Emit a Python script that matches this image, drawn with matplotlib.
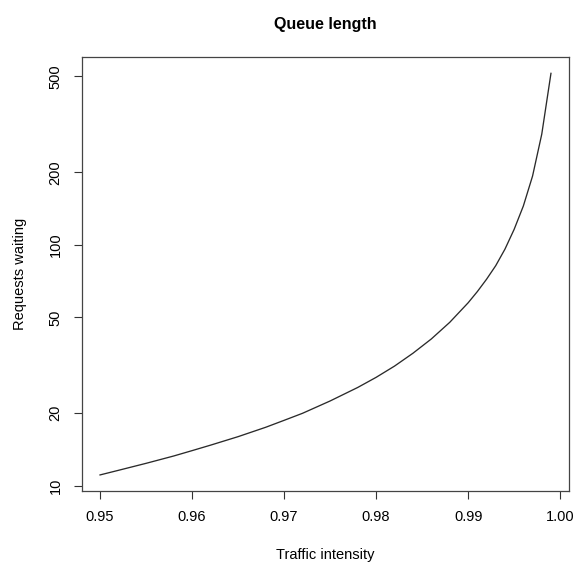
import matplotlib
matplotlib.use("Agg")
import matplotlib.pyplot as plt
from matplotlib.ticker import FixedLocator, FixedFormatter, NullLocator

plt.rcParams["font.family"] = ["Liberation Sans", "DejaVu Sans"]

# data
intensity = [0.950, 0.952, 0.955, 0.958, 0.960, 0.962, 0.965, 0.968,
             0.970, 0.972, 0.975, 0.978, 0.980, 0.982, 0.984, 0.986,
             0.988, 0.990, 0.991, 0.992, 0.993, 0.994, 0.995, 0.996,
             0.997, 0.998, 0.999]
waiting = [11.1, 11.6, 12.4, 13.3, 14.0, 14.75, 16.0, 17.5,
           18.7, 20.0, 22.5, 25.6, 28.2, 31.4, 35.5, 40.7,
           47.7, 57.5, 64.0, 72.0, 82.0, 96.0, 116.0, 145.0,
           193.0, 288.0, 515.0]

xticks = [0.95, 0.96, 0.97, 0.98, 0.99, 1.00]
xticklabels = ["0.95", "0.96", "0.97", "0.98", "0.99", "1.00"]
yticks = [10, 20, 50, 100, 200, 500]
yticklabels = ["10", "20", "50", "100", "200", "500"]

W, H = 574, 563
fig = plt.figure(figsize=(W / 100, H / 100), dpi=100)
ax = fig.add_axes([82 / W, 1 - 491 / H, (569 - 82) / W, (491 - 57) / H])

ax.plot(intensity, waiting, color="#2a2a2a", linewidth=0.95)
ax.set_yscale("log")
ax.set_xlim(0.94804, 1.00096)
ax.set_ylim(9.52, 602)

ax.xaxis.set_major_locator(FixedLocator(xticks))
ax.xaxis.set_major_formatter(FixedFormatter(xticklabels))
ax.yaxis.set_major_locator(FixedLocator(yticks))
ax.yaxis.set_major_formatter(FixedFormatter(yticklabels))
ax.yaxis.set_minor_locator(NullLocator())
ax.xaxis.set_minor_locator(NullLocator())

ax.tick_params(axis="both", direction="out", length=6, width=0.8,
               color="#333333", labelsize=10.5, pad=8)
for lab in ax.get_yticklabels():
    lab.set_rotation(90)
    lab.set_va("center")

for s in ax.spines.values():
    s.set_color("#444444")
    s.set_linewidth(0.9)

fig.text(325 / W, 1 - 25 / H, "Queue length", ha="center", va="center",
         fontsize=11.5, fontweight="bold")
fig.text(325 / W, 1 - 555 / H, "Traffic intensity", ha="center", va="center",
         fontsize=10.5)
fig.text(20 / W, 1 - 274 / H, "Requests waiting", ha="center", va="center",
         fontsize=10.5, rotation=90)

fig.savefig("out.png", dpi=100)
